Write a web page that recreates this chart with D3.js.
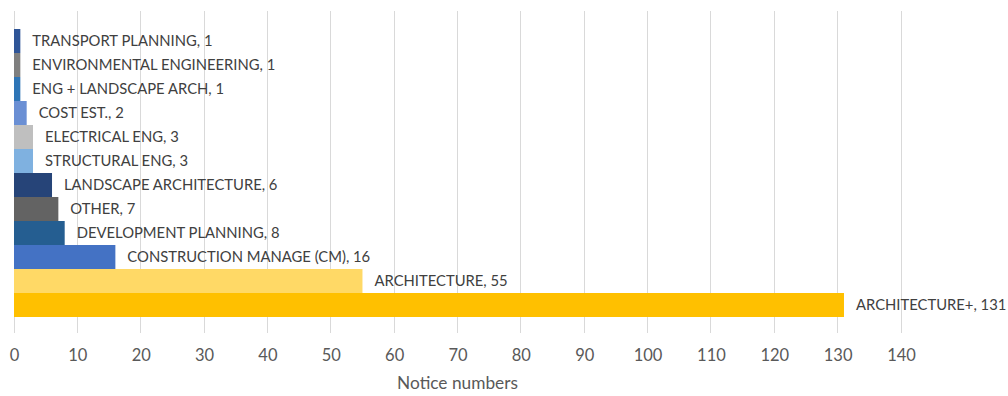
<!DOCTYPE html>
<html>
<head>
<meta charset="utf-8">
<script src="https://cdn.jsdelivr.net/npm/d3@7"></script>
<style>
  html, body { margin: 0; padding: 0; background: #ffffff; }
  svg { display: block; font-family: Lato, "Open Sans", sans-serif; }
</style>
</head>
<body>
<svg id="chart" width="1008" height="396"></svg>
<script>
// Notice counts by discipline, top to bottom
const categories = [
  "TRANSPORT PLANNING",
  "ENVIRONMENTAL ENGINEERING",
  "ENG + LANDSCAPE ARCH",
  "COST EST.",
  "ELECTRICAL ENG",
  "STRUCTURAL ENG",
  "LANDSCAPE ARCHITECTURE",
  "OTHER",
  "DEVELOPMENT PLANNING",
  "CONSTRUCTION MANAGE (CM)",
  "ARCHITECTURE",
  "ARCHITECTURE+"
];
const values = [1, 1, 1, 2, 3, 3, 6, 7, 8, 16, 55, 131];
const barColors = [
  "#2f5597", "#7f7f7f", "#2e75b6", "#6a8fd4", "#bfbfbf", "#7fb1e0",
  "#264478", "#636363", "#255e91", "#4472c4", "#ffd966", "#ffc000"
];
const xTicks = [0, 10, 20, 30, 40, 50, 60, 70, 80, 90, 100, 110, 120, 130, 140];
const axisTitle = "Notice numbers";

const svg = d3.select("#chart");

const x = d3.scaleLinear().domain([0, 140]).range([14, 901]);
const y = d3.scaleBand().domain(categories).range([29, 317]).paddingInner(0).paddingOuter(0);

const gridTop = 11, gridBottom = 333;

// vertical gridlines
svg.append("g")
  .selectAll("line")
  .data(xTicks)
  .join("line")
  .attr("x1", d => x(d)).attr("x2", d => x(d))
  .attr("y1", gridTop).attr("y2", gridBottom)
  .attr("stroke", "#d9d9d9")
  .attr("stroke-width", 1)
  .attr("shape-rendering", "crispEdges");

// bars
svg.append("g")
  .selectAll("rect")
  .data(values)
  .join("rect")
  .attr("x", x(0))
  .attr("y", (d, i) => y(categories[i]))
  .attr("width", d => x(d) - x(0))
  .attr("height", y.bandwidth())
  .attr("fill", (d, i) => barColors[i]);

// data labels: "CATEGORY, value"
svg.append("g")
  .selectAll("text")
  .data(values)
  .join("text")
  .attr("x", d => x(d) + 12)
  .attr("y", (d, i) => y(categories[i]) + y.bandwidth() / 2)
  .attr("dy", "0.35em")
  .attr("font-size", 14.8)
  .attr("fill", "#404040")
  .text((d, i) => `${categories[i]}, ${d}`);

// x axis tick labels
const xAxis = d3.axisBottom(x).tickValues(xTicks).tickSize(0).tickPadding(0);
const gx = svg.append("g")
  .attr("transform", `translate(0, ${gridBottom + 16})`)
  .call(xAxis);
gx.select(".domain").remove();
gx.selectAll("text")
  .attr("font-family", "Lato, 'Open Sans', sans-serif")
  .attr("font-size", 16.5)
  .attr("fill", "#595959");

// axis title
svg.append("text")
  .attr("x", (x(0) + x(140)) / 2)
  .attr("y", 389)
  .attr("text-anchor", "middle")
  .attr("font-size", 17.3)
  .attr("fill", "#595959")
  .text(axisTitle);
</script>
</body>
</html>
